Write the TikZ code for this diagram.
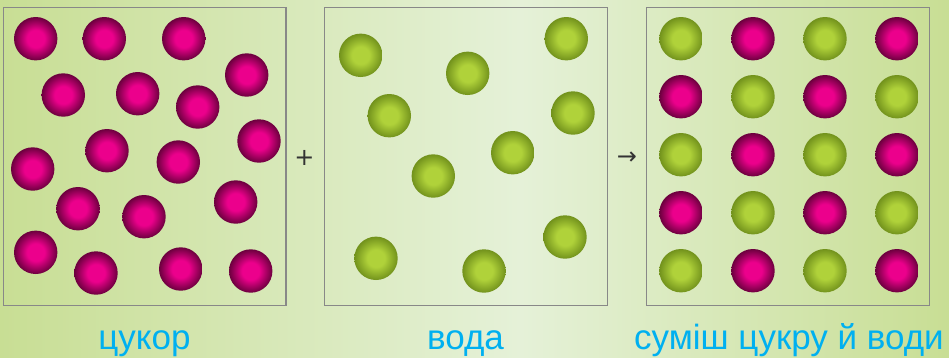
\documentclass[tikz,border=0pt]{standalone}
\usepackage{fontspec}
\setmainfont{Liberation Sans}
\newfontfamily\symfont{DejaVu Sans}
\usetikzlibrary{positioning}

\definecolor{bgedge}{RGB}{200,222,148}
\definecolor{bglight}{RGB}{229,241,216}
\definecolor{boxgray}{RGB}{136,136,136}
\definecolor{sugarlight}{RGB}{236,0,140}
\definecolor{sugardark}{RGB}{108,0,62}
\definecolor{waterlight}{RGB}{176,210,58}
\definecolor{waterdark}{RGB}{114,146,28}
\definecolor{labelblue}{RGB}{0,176,240}

\pgfdeclareradialshading{sugarball}{\pgfpointorigin}{color(0bp)=(sugarlight); color(10bp)=(sugarlight); color(25bp)=(sugardark); color(50bp)=(sugardark)}
\pgfdeclareradialshading{waterball}{\pgfpointorigin}{color(0bp)=(waterlight); color(10bp)=(waterlight); color(25bp)=(waterdark); color(50bp)=(waterdark)}

\tikzset{
	sugar/.style={circle, minimum size=43.4pt, inner sep=0pt, shade, shading=sugarball},
	water/.style={circle, minimum size=43.4pt, inner sep=0pt, shade, shading=waterball},
	glass/.style={draw=boxgray, line width=1.5pt, minimum width=282.6pt, minimum height=298pt, inner sep=0pt},
	caption/.style={anchor=base, text=labelblue, font=\fontsize{35}{40}\selectfont},
	sign/.style={text=black!80, font=\symfont\fontsize{24}{24}\selectfont}
}

\begin{document}
\begin{tikzpicture}[x=1pt, y=-1pt]
	\useasboundingbox (0,0) rectangle (949,357);
	%background
	\shade[left color=bgedge, right color=bglight] (0,0) rectangle (520,357);
	\shade[left color=bglight, right color=bgedge] (520,0) rectangle (949,357);
	
	%three glasses
	\node[glass] (sugarbox) at (144.8,156.3) {};
	\node[glass] (waterbox) at (466,156.3) {};
	\node[glass] (mixbox) at (788,156.3) {};
	
	\node[sign] (plus) at (304.5,158) {+};
	\node[sign] (arrow) at (627,158) {→};
	
	%sugar molecules
	\foreach \i/\x/\y in {1/35.7/38.7, 2/104.3/38.7, 3/183.7/38.7, 4/246.7/75,
		5/63.3/95, 6/137.7/93.7, 7/197.7/107, 8/259/141, 9/32.7/169,
		10/107/150.7, 11/178.3/162, 12/78/208.7, 13/144/216.7, 14/235.7/202,
		15/35.7/252.3, 16/96/273, 17/180.7/269, 18/250.7/271}
	\node[sugar] (s\i) at (\x,\y) {};
	
	%water molecules
	\foreach \i/\x/\y in {1/360.7/55.3, 2/467.7/73.3, 3/566.3/38.7, 4/389.3/115.7,
		5/573/113, 6/512.7/152.7, 7/433.3/176, 8/376/258.3, 9/484/271,
		10/565/237}
	\node[water] (w\i) at (\x,\y) {};
	
	%mixture, 5 rows of 4
	\foreach \r in {1,...,5}
	\foreach \c in {1,...,4}
	{
		\pgfmathtruncatemacro{\k}{mod(\r+\c,2)}
		\ifnum\k=0 \def\kind{water}\else\def\kind{sugar}\fi
		\node[\kind] (m\r\c) at ({609+72*\c},{-19.3+58*\r}) {};
	}
	
	%captions
	\node[caption] (sugarlabel) at (144.5,349) {цукор};
	\node[caption] (waterlabel) at (465.5,349) {вода};
	\node[caption] (mixlabel) at (789,349) {суміш цукру й води};
\end{tikzpicture}
\end{document}
